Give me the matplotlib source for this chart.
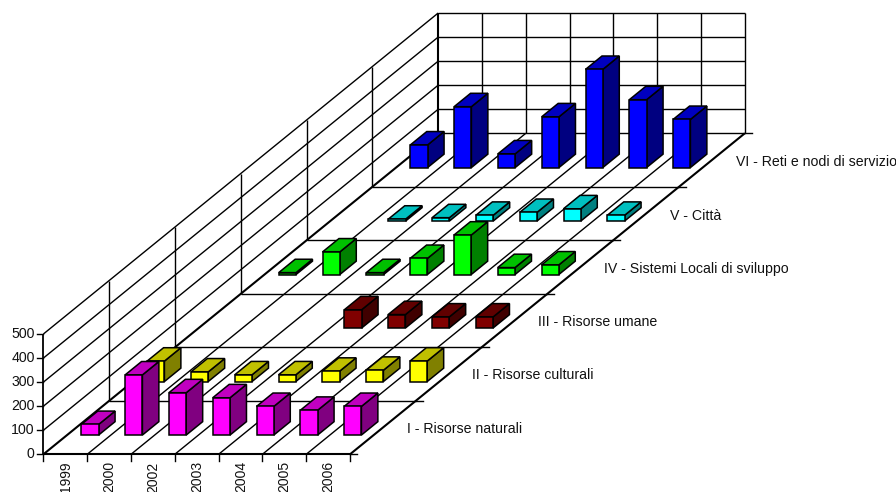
"""
3D style column chart of yearly values per axis of intervention
"""

import numpy as np
import matplotlib
matplotlib.use('Agg')
import matplotlib.pyplot as plt
from matplotlib.patches import Polygon

plt.rcParams['font.family'] = ['Liberation Sans', 'DejaVu Sans']

years = ['1999', '2000', '2002', '2003', '2004', '2005', '2006']
value_ticks = [0, 100, 200, 300, 400, 500]

series_names = ['I - Risorse naturali', 'II - Risorse culturali',
                'III - Risorse umane', 'IV - Sistemi Locali di sviluppo',
                'V - Città', 'VI - Reti e nodi di servizio']

risorse_naturali = [44, 250, 176, 155, 119, 103, 119]
risorse_culturali = [85, 40, 28, 28, 43, 47, 85]
risorse_umane = [np.nan, np.nan, np.nan, 76, 56, 46, 46]
sistemi_locali = [8, 94, 8, 67, 164, 29, 40]
citta = [np.nan, 8, 14, 24, 36, 51, 24]
reti_nodi = [94, 253, 57, 211, 408, 282, 200]

all_series = [risorse_naturali, risorse_culturali, risorse_umane,
              sistemi_locali, citta, reti_nodi]

# front, top and side shades of every series
front_colors = ['#FF00FF', '#FFFF00', '#800000', '#00FF00', '#00FFFF', '#0000FF']
top_colors = ['#C000C0', '#C0C000', '#600000', '#00C000', '#00C0C0', '#0000C0']
side_colors = ['#800080', '#808000', '#400000', '#008000', '#008080', '#000080']

# oblique projection, pixels of the 896x492 canvas
ORIGIN_X, ORIGIN_Y = 43.4, 454.3
CAT_STEP = 43.8
DEPTH_DX, DEPTH_DY = 65.8, -53.5
PX_PER_UNIT = 0.2406

BAR_U = (0.325, 0.72)
BAR_D = (0.36, 0.61)


def project(u, d, v=0):
    """Map category position, series position and value to canvas pixels"""
    x = ORIGIN_X + u * CAT_STEP + d * DEPTH_DX
    y = ORIGIN_Y + d * DEPTH_DY - v * PX_PER_UNIT
    return x, y


def line3d(ax, start, end, lw=1.0, color='black'):
    """Draw a straight line between two projected points"""
    x0, y0 = project(*start)
    x1, y1 = project(*end)
    ax.plot([x0, x1], [y0, y1], color=color, lw=lw, solid_capstyle='butt', zorder=1)


def draw_frame(ax):
    """Draw floor, walls, grid lines and ticks"""
    n_cat = len(years)
    n_ser = len(series_names)
    top = value_ticks[-1]

    # floor lines
    for i in range(n_cat + 1):
        heavy = i in (0, n_cat)
        line3d(ax, (i, 0), (i, n_ser), lw=1.5 if heavy else 1.0)
    for s in range(n_ser + 1):
        line3d(ax, (0, s), (n_cat, s), lw=1.5 if s == 0 else 1.0)
        # small tick on the series axis
        x, y = project(n_cat, s)
        ax.plot([x, x + 7], [y, y], color='black', lw=1.0, zorder=1)

    # left wall
    for v in value_ticks[1:]:
        line3d(ax, (0, 0, v), (0, n_ser, v))
    for s in range(1, n_ser + 1):
        line3d(ax, (0, s, 0), (0, s, top), lw=1.5 if s == n_ser else 1.0)

    # back wall
    for v in value_ticks[1:]:
        line3d(ax, (0, n_ser, v), (n_cat, n_ser, v))
    for i in range(1, n_cat + 1):
        line3d(ax, (i, n_ser, 0), (i, n_ser, top))

    # value axis
    line3d(ax, (0, 0, 0), (0, 0, top), lw=1.3)
    for v in value_ticks:
        x, y = project(0, 0, v)
        ax.plot([x - 6, x], [y, y], color='black', lw=1.0, zorder=1)
        ax.text(x - 8.7, y, str(v), ha='right', va='center', fontsize=10.2, color='#111111')

    # category axis
    for i in range(n_cat + 1):
        x, y = project(i, 0)
        ax.plot([x, x], [y, y + 6.5], color='black', lw=1.0, zorder=1)
    for i, year in enumerate(years):
        x, y = project(i + 0.5, 0)
        ax.text(x + 0.3, y + 7, year, rotation=90, ha='center', va='top', fontsize=10, color='#111111')

    # series labels
    for s, name in enumerate(series_names):
        x, y = project(n_cat, s + 0.5)
        ax.text(x + 23.7, y + 1 + 0.25 * s, name, ha='left', va='center', fontsize=10.15, color='#111111')


def draw_bar(ax, cat, ser, value):
    """Draw one column as front, top and side faces"""
    u0, u1 = cat + BAR_U[0], cat + BAR_U[1]
    d0, d1 = ser + BAR_D[0], ser + BAR_D[1]

    front = [project(u0, d0), project(u1, d0), project(u1, d0, value), project(u0, d0, value)]
    top = [project(u0, d0, value), project(u1, d0, value), project(u1, d1, value), project(u0, d1, value)]
    side = [project(u1, d0), project(u1, d1), project(u1, d1, value), project(u1, d0, value)]

    zorder = 10 + (len(series_names) - ser) * 10 + cat
    for points, colors in ((side, side_colors), (top, top_colors), (front, front_colors)):
        ax.add_patch(Polygon(points, closed=True, facecolor=colors[ser], edgecolor='black',
                             lw=1.1, joinstyle='miter', zorder=zorder))


fig = plt.figure(figsize=(8.96, 4.92), dpi=100)
ax = fig.add_axes([0, 0, 1, 1])
ax.set_xlim(0, 896)
ax.set_ylim(492, 0)
ax.axis('off')

draw_frame(ax)

# Draw the columns from the back series to the front one
for ser in range(len(all_series) - 1, -1, -1):
    for cat, value in enumerate(all_series[ser]):
        if not np.isnan(value):
            draw_bar(ax, cat, ser, value)

fig.savefig('out.png', dpi=100, facecolor='white')
